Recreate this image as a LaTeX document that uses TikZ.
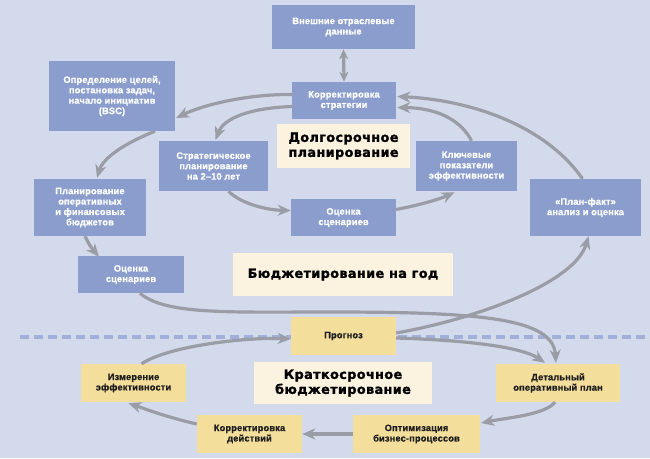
\documentclass[tikz,border=0pt]{standalone}
\usepackage{fontspec}
\usetikzlibrary{arrows.meta,calc}
\newfontfamily\boxfont[LetterSpace=1.5, BoldFeatures={FakeBold=0.8}]{Liberation Sans}
\newfontfamily\titlefont[LetterSpace=3, BoldFeatures={FakeBold=1.4}]{DejaVu Sans}
\definecolor{bgc}{HTML}{D3DAEB}
\definecolor{bluebox}{HTML}{8A9DCC}
\definecolor{yelbox}{HTML}{F4DE9C}
\definecolor{creambox}{HTML}{FBF2DF}
\definecolor{arrc}{HTML}{9A9DA5}
\definecolor{dashc}{HTML}{A2AFD9}
\definecolor{darktext}{HTML}{1E1E1E}
\tikzset{
  box/.style={draw=none, inner sep=0pt, align=center, font=\boxfont\bfseries\fontsize{9.3}{10.4}\selectfont},
  bbox/.style={box, fill=bluebox, text=white},
  ybox/.style={box, fill=yelbox, text=darktext},
  cbox/.style={draw=none, inner sep=0pt, align=center, fill=creambox, text=black,
    font=\titlefont\bfseries\fontsize{12.8}{15}\selectfont},
  arr/.style={draw=arrc, line width=3.2pt, -{Stealth[length=13pt,width=11pt,inset=4pt]}},
  darr/.style={draw=arrc, line width=3.2pt, {Stealth[length=10pt,width=9pt,inset=3pt]}-{Stealth[length=10pt,width=9pt,inset=3pt]}},
  sep/.style={draw=dashc, line width=3.5pt, dash pattern=on 9pt off 5pt}
}
\begin{document}
\begin{tikzpicture}[x=1pt,y=-1pt]
\fill[bgc] (0,0) rectangle (650,458);
\useasboundingbox (0,0) rectangle (650,458);
% separator
\coordinate (sepL) at (20,337);
\coordinate (sepR) at (650,337);
\draw[sep] (sepL) -- (sepR);
% nodes
\node[bbox, minimum width=143pt, minimum height=44pt] (ext) at (343.5,27) {Внешние отраслевые\\данные};
\node[bbox, minimum width=126pt, minimum height=70pt] (goals) at (112,96) {Определение целей,\\постановка задач,\\начало инициатив\\(BSC)};
\node[bbox, minimum width=104pt, minimum height=37pt] (korr) at (344,100.5) {Корректировка\\стратегии};
\node[cbox, minimum width=133pt, minimum height=44pt] (dolg) at (343.5,146) {Долгосрочное\\планирование};
\node[bbox, minimum width=109pt, minimum height=50pt] (strat) at (213.5,166) {Стратегическое\\планирование\\на 2–10 лет};
\node[bbox, minimum width=101pt, minimum height=50pt] (kpi) at (466.5,166) {Ключевые\\показатели\\эффективности};
\node[bbox, minimum width=112pt, minimum height=57pt] (plan) at (90,207.5) {Планирование\\оперативных\\и финансовых\\бюджетов};
\node[bbox, minimum width=105pt, minimum height=37pt] (ocm) at (343.5,217.5) {Оценка\\сценариев};
\node[bbox, minimum width=111pt, minimum height=57pt] (pf) at (585.5,207.5) {«План-факт»\\анализ и оценка};
\node[bbox, minimum width=106pt, minimum height=37pt] (ocl) at (131,274.5) {Оценка\\сценариев};
\node[cbox, minimum width=220pt, minimum height=43pt] (byud) at (343,274.5) {Бюджетирование на год};
\node[ybox, minimum width=105pt, minimum height=38pt] (prog) at (343.5,336) {Прогноз};
\node[cbox, minimum width=178pt, minimum height=42pt] (krat) at (343,383) {Краткосрочное\\бюджетирование};
\node[ybox, minimum width=105pt, minimum height=38pt] (izm) at (133.5,383) {Измерение\\эффективности};
\node[ybox, minimum width=124pt, minimum height=38pt] (det) at (558,383) {Детальный\\оперативный план};
\node[ybox, minimum width=105pt, minimum height=38pt] (korrd) at (249.5,434) {Корректировка\\действий};
\node[ybox, minimum width=127pt, minimum height=38pt] (opt) at (416.5,434) {Оптимизация\\бизнес-процессов};
% connectors
\draw[darr] (ext.south) -- (korr.north);
\draw[arr] ($(korr.west)+(0,-6)$) .. controls (250,94) and (205,104) .. ($(goals.east)+(1,22)$);
\draw[arr] ($(korr.west)+(0,6)$) .. controls (250,108) and (224,118) .. ($(strat.north)+(2,-1)$);
\draw[arr] ($(goals.south)+(43,0)$) .. controls (125,143) and (103,158) .. ($(plan.north)+(7,-1)$);
\draw[arr] ($(plan.south)+(-5,0)$) .. controls (90,246) .. ($(ocl.north)+(-32,1)$);
\draw[arr] ($(strat.south)+(15,0)$) .. controls (240,203) and (265,210) .. ($(ocm.west)+(0,-7)$);
\draw[arr] ($(ocm.east)+(0,-8)$) .. controls (420,205) and (440,199) .. ($(kpi.south)+(-12,1)$);
\draw[arr] ($(kpi.north)+(5,0)$) .. controls (462,122) and (440,108) .. ($(korr.east)+(1,7)$);
\draw[arr] ($(pf.north)+(-3,0)$) .. controls (545,125) and (470,100) .. ($(korr.east)+(1,-4)$);
\draw[arr] ($(ocl.south)+(9,0)$) .. controls (165,315) and (230,312) .. (330,312) .. controls (480,312) and (553,318) .. ($(det.north)+(-2,-1)$);
\draw[arr] ($(prog.east)+(0,-3)$) .. controls (480,318) and (575,282) .. ($(pf.south)+(3,0)$);
\draw[arr] ($(prog.east)+(0,2)$) .. controls (460,340) and (520,346) .. ($(det.north)+(-13,-1)$);
\draw[arr] ($(izm.north)+(8,0)$) .. controls (170,345) and (250,337) .. ($(prog.west)+(0,3)$);
\draw[arr] ($(det.south)+(-3,0)$) .. controls (545,415) and (505,418) .. ($(opt.east)+(1,-11)$);
\draw[arr] (opt.west) -- (korrd.east);
\draw[arr] ($(korrd.west)+(0,-10)$) .. controls (170,418) and (148,410) .. ($(izm.south)+(-5,1)$);
\end{tikzpicture}
\end{document}
